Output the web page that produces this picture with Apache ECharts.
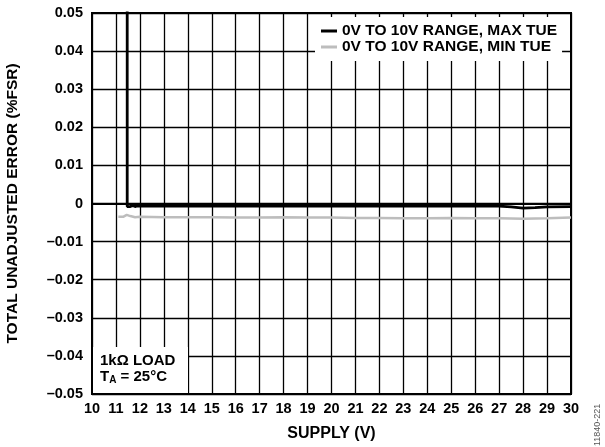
<!DOCTYPE html>
<html>
<head>
<meta charset="utf-8">
<script src="https://cdn.jsdelivr.net/npm/echarts@6/dist/echarts.min.js"></script>
<style>html,body{margin:0;padding:0;background:#fff;}#c{width:605px;height:447px;}</style>
</head>
<body>
<div id="c"></div>
<script>
var FONT = '"Liberation Sans", Arial, Helvetica, sans-serif';
var seriesNames = ['0V TO 10V RANGE, MAX TUE', '0V TO 10V RANGE, MIN TUE'];
var xTicks = [10,11,12,13,14,15,16,17,18,19,20,21,22,23,24,25,26,27,28,29,30];
var yTicks = [-0.05,-0.04,-0.03,-0.02,-0.01,0,0.01,0.02,0.03,0.04,0.05];

var maxSupply = [11.47, 11.47, 11.6, 11.7, 11.8, 11.9, 12, 13, 14, 15, 16, 17, 18, 19, 20, 21, 22, 23, 24, 25, 26, 27, 27.5, 28, 28.5, 29, 30];
var maxTUE    = [0.08, -0.0008, -0.0008, -0.0005, -0.0008, -0.0006, -0.0007, -0.0007, -0.0007, -0.0007, -0.0007, -0.0007, -0.0007, -0.0007, -0.0007, -0.0007, -0.0007, -0.0007, -0.0007, -0.0007, -0.0007, -0.0007, -0.0009, -0.0012, -0.0011, -0.0009, -0.0008];

var minSupply = [11.1, 11.3, 11.45, 11.6, 11.8, 12, 13, 14, 15, 16, 17, 18, 19, 20, 21, 22, 23, 24, 25, 26, 27, 28, 29, 30];
var minTUE    = [-0.0035, -0.0035, -0.003, -0.0033, -0.0036, -0.0035, -0.0036, -0.0036, -0.0036, -0.0037, -0.0037, -0.0036, -0.0037, -0.0037, -0.0038, -0.0038, -0.0039, -0.0039, -0.0038, -0.0039, -0.0039, -0.0040, -0.0039, -0.0037];

function zip(a, b) { return a.map(function (v, i) { return [v, b[i]]; }); }

var chart = echarts.init(document.getElementById('c'), null, {renderer: 'canvas'});
var axisTxt = {color: '#000', fontFamily: FONT, fontWeight: 'bold', fontSize: 14.5};
chart.setOption({
  animation: false,
  backgroundColor: '#fff',
  grid: {left: 92, right: 34, top: 13, bottom: 53, show: true, borderColor: '#000', borderWidth: 2, containLabel: false, outerBoundsMode: 'none'},
  xAxis: {
    type: 'value', min: xTicks[0], max: xTicks[xTicks.length - 1], interval: 1,
    name: 'SUPPLY (V)', nameLocation: 'middle', nameGap: 32,
    nameTextStyle: {color: '#000', fontFamily: FONT, fontWeight: 'bold', fontSize: 16},
    axisLine: {show: true, lineStyle: {color: '#000', width: 2}},
    axisTick: {show: false},
    axisLabel: Object.assign({margin: 7, formatter: function (v) { return String(v); }}, axisTxt),
    splitLine: {show: true, lineStyle: {color: '#000', width: 1.3}}
  },
  yAxis: {
    type: 'value', min: yTicks[0], max: yTicks[yTicks.length - 1], interval: 0.01,
    name: 'TOTAL UNADJUSTED ERROR (%FSR)', nameLocation: 'middle', nameGap: 71, nameRotate: 90,
    nameTextStyle: {color: '#000', fontFamily: FONT, fontWeight: 'bold', fontSize: 15.5},
    axisLine: {show: true, lineStyle: {color: '#000', width: 2}},
    axisTick: {show: false},
    axisLabel: Object.assign({margin: 9, formatter: function (v) {
      if (Math.abs(v) < 1e-9) return '0';
      return (v < 0 ? '\u2013' : '') + Math.abs(v).toFixed(2);
    }}, axisTxt),
    splitLine: {show: true, lineStyle: {color: '#000', width: 1.3}}
  },
  legend: {
    orient: 'vertical', left: 315, top: 17,
    backgroundColor: '#fff', padding: [6, 5, 6, 6],
    itemGap: 0, itemWidth: 16, itemHeight: 3, icon: 'rect',
    textStyle: {color: '#000', fontFamily: FONT, fontWeight: 'bold', fontSize: 15.5, lineHeight: 13.5, padding: [0, 0, 0, 0]},
    data: seriesNames
  },
  series: [
    {name: seriesNames[1], type: 'line', data: zip(minSupply, minTUE), showSymbol: false, symbol: 'none',
     color: '#bdbdbd', lineStyle: {color: '#bdbdbd', width: 2.5}, z: 3},
    {name: seriesNames[0], type: 'line', data: zip(maxSupply, maxTUE), showSymbol: false, symbol: 'none',
     color: '#000', lineStyle: {color: '#000', width: 2.8}, z: 4}
  ],
  graphic: [
    {type: 'rect', z: 100, zlevel: 1, shape: {x: 93, y: 347, width: 95, height: 46}, style: {fill: '#fff'}},
    {type: 'text', z: 101, zlevel: 1, x: 100, y: 353, style: {
        text: '{a|1k\u03A9 LOAD}\n{a|T}{s|A}{a| = 25\u00B0C}',
        rich: {
          a: {fontFamily: FONT, fontWeight: 'bold', fontSize: 15, lineHeight: 16, fill: '#000'},
          s: {fontFamily: FONT, fontWeight: 'bold', fontSize: 10, lineHeight: 16, verticalAlign: 'bottom', padding: [5, 0, 0, 0], fill: '#000'}
        }
    }},
    {type: 'text', x: 593, y: 446, rotation: Math.PI / 2, style: {text: '11840-221', fontFamily: FONT, fontSize: 9, fill: '#555', align: 'left', verticalAlign: 'top'}}
  ]
});
</script>
</body>
</html>
